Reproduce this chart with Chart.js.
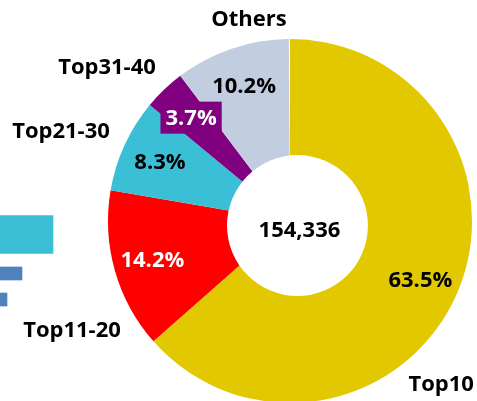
<!DOCTYPE html>
<html>
<head>
<meta charset="utf-8">
<script src="https://cdn.jsdelivr.net/npm/chart.js@4"></script>
<style>
  html, body { margin: 0; padding: 0; background: #fff; overflow: hidden; }
  body { width: 477px; height: 401px; position: relative; }
  #pieBox { position: absolute; left: 0; top: 0; width: 477px; height: 410px; }
  #barBox { position: absolute; left: 0; top: 200px; width: 120px; height: 120px; }
</style>
</head>
<body>
<div id="barBox"><canvas id="bars"></canvas></div>
<div id="pieBox"><canvas id="pie"></canvas></div>
<script>
"use strict";

// doughnut data
const categories = ["Top10", "Top11-20", "Top21-30", "Top31-40", "Others"];
const shares = [63.5, 14.2, 8.3, 3.7, 10.2];
const totalCount = "154,336";
const sliceColors = ["#E2C800", "#FF0000", "#3BBFD7", "#800080", "#C3CDE0"];
const labelColors = ["#000", "#fff", "#000", "#fff", "#000"];

// fragment of the neighbouring bar chart (only the visible part)
const barCategories = ["a", "b", "c", "d", "e", "f"];
const barCyan = [53, null, null, null, null, null];
const barBlue = [null, null, null, 22, null, 7];

const FONT = "bold 22px 'Open Sans', Lato, sans-serif";

// outside label placement: angle nudge (deg) from slice middle, radius factor
const outerPlace = [
  { da: 23, r: 1.225 },
  { da: -10.8, r: 1.34 },
  { da: -3.4, r: 1.35 },
  { da: -6.4, r: 1.31 },
  { da: 7.2, r: 1.13 },
];

const sliceLabels = {
  id: "sliceLabels",
  afterDatasetsDraw(chart) {
    const ctx = chart.ctx;
    const arcs = chart.getDatasetMeta(0).data;
    const cx = arcs[0].x, cy = arcs[0].y, R = arcs[0].outerRadius;

    ctx.save();
    // hole (slightly off centre, as in the original)
    const hx = cx + R * 0.041, hy = cy + R * 0.025;
    ctx.fillStyle = "#fff";
    ctx.beginPath();
    ctx.arc(hx, hy, R * 0.387, 0, Math.PI * 2);
    ctx.fill();

    ctx.font = FONT;
    ctx.textAlign = "center";
    ctx.textBaseline = "middle";
    ctx.fillStyle = "#000";
    ctx.fillText(totalCount, hx + 2, hy + 5);

    arcs.forEach((arc, i) => {
      const mid = (arc.startAngle + arc.endAngle) / 2;
      const txt = shares[i].toFixed(1) + "%";
      const x = cx + Math.cos(mid) * R * 0.786;
      const y = cy + Math.sin(mid) * R * 0.786;
      if (i === 3) {
        const w = ctx.measureText(txt).width + 10;
        ctx.fillStyle = sliceColors[i];
        ctx.fillRect(x - w / 2, y - 16, w, 32);
      }
      ctx.fillStyle = labelColors[i];
      ctx.fillText(txt, x, y + 1);

      const p = outerPlace[i];
      const a = mid + (p.da * Math.PI) / 180;
      ctx.fillStyle = "#000";
      ctx.fillText(categories[i], cx + Math.cos(a) * R * p.r, cy + Math.sin(a) * R * p.r);
    });
    ctx.restore();
  },
};

const sum = shares.reduce((a, b) => a + b, 0);

new Chart(document.getElementById("pie"), {
  type: "pie",
  data: {
    labels: categories,
    datasets: [{
      data: shares,
      backgroundColor: sliceColors,
      borderWidth: 0,
    }],
  },
  options: {
    responsive: true,
    maintainAspectRatio: false,
    devicePixelRatio: 1,
    animation: false,
    circumference: 360 * sum / 100,
    layout: { padding: { top: 39, bottom: 7, left: 108, right: 5 } },
    plugins: { legend: { display: false }, tooltip: { enabled: false } },
  },
  plugins: [sliceLabels],
});

new Chart(document.getElementById("bars"), {
  type: "bar",
  data: {
    labels: barCategories,
    datasets: [
      { data: barCyan, backgroundColor: "#3BBFD7", barThickness: 38, grouped: false, clip: false },
      { data: barBlue, backgroundColor: "#4F81BD", barThickness: 13, grouped: false, clip: false },
    ],
  },
  options: {
    indexAxis: "y",
    responsive: true,
    maintainAspectRatio: false,
    devicePixelRatio: 1,
    animation: false,
    layout: { padding: { top: 28, bottom: 14, left: 0, right: 0 } },
    scales: {
      x: { display: false, min: 0, max: 120 },
      y: { display: false },
    },
    plugins: { legend: { display: false }, tooltip: { enabled: false } },
  },
});
</script>
</body>
</html>
